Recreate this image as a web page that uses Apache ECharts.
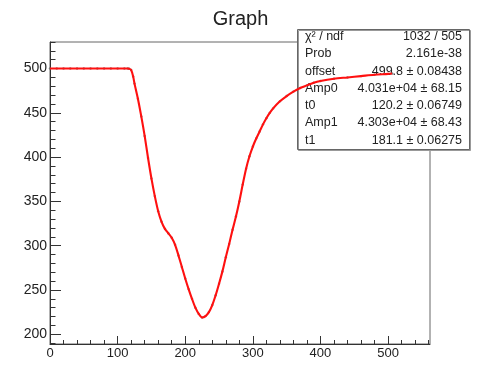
<!DOCTYPE html>
<html>
<head>
<meta charset="utf-8">
<script src="https://cdn.jsdelivr.net/npm/echarts@6/dist/echarts.min.js"></script>
<style>
  html, body { margin: 0; padding: 0; background: #fff; }
  #chart { width: 481px; height: 368px; }
</style>
</head>
<body>
<div id="chart"></div>
<script>
// samples
const xs = [0, 10, 20, 30, 40, 50, 60, 70, 80, 90, 100, 110, 115, 117, 120, 123, 125, 130, 135, 140, 145,
  150, 155, 160, 165, 170, 175, 180, 185, 190, 195, 200, 205, 210, 215, 220, 225, 230, 235, 240, 245,
  250, 255, 260, 265, 270, 275, 280, 285, 290, 295, 300, 305, 310, 315, 320, 325, 330, 340, 350, 360,
  370, 380, 390, 400, 420, 440, 460, 480, 500, 506];
const counts = [500, 500, 500, 500, 500, 500, 500, 500, 500, 500, 500, 500, 500, 499.8, 498.5, 491, 483, 466, 446, 424, 399,
  376, 356, 339, 327, 319, 314, 309, 301, 289, 276, 263, 251, 240, 230, 223, 219, 220.5, 225, 233, 244,
  257, 271, 287, 302, 318, 333, 350, 369, 387, 401, 412, 421, 429, 437, 444, 450, 455, 463, 469, 474,
  478, 481, 484, 486, 488.5, 490, 491.5, 493, 494, 494.4];

const xMajor = [0, 100, 200, 300, 400, 500];
const yMajor = [200, 250, 300, 350, 400, 450, 500];
const xRange = [0, 562];
const yRange = [189, 530];

const statNames = ['χ² / ndf', 'Prob', 'offset', 'Amp0', 't0', 'Amp1', 't1'];
const statValues = ['1032 / 505', '2.161e-38', '499.8 ± 0.08438', '4.031e+04 ± 68.15',
  '120.2 ± 0.06749', '4.303e+04 ± 68.43', '181.1 ± 0.06275'];

function minorTicks(range, step, majorStep) {
  const out = [];
  for (let v = Math.ceil(range[0] / step) * step; v <= range[1]; v += step) {
    if (v % majorStep !== 0) out.push(v);
  }
  return out;
}

const points = xs.map((x, i) => [x, counts[i]]);
const font = 'Liberation Sans, Arial, sans-serif';

const chart = echarts.init(document.getElementById('chart'), null, { renderer: 'canvas' });

const statText = [];
statNames.forEach((name, i) => {
  statText.push({
    type: 'text', left: 305, top: 30 + i * 17.3, z: 1,
    style: { text: name, font: '12.5px ' + font, fill: '#222', textVerticalAlign: 'top' }
  });
  statText.push({
    type: 'text', right: 19, top: 30 + i * 17.3, z: 1,
    style: { text: statValues[i], font: '12.5px ' + font, fill: '#222', textAlign: 'right', textVerticalAlign: 'top' }
  });
});

const option = {
  animation: false,
  backgroundColor: '#fff',
  title: {
    text: 'Graph',
    left: 'center',
    top: 4,
    textStyle: { fontFamily: font, fontSize: 20, fontWeight: 'normal', color: '#222' }
  },
  grid: {
    left: 50, right: 51, top: 42, bottom: 24,
    containLabel: false,
    outerBoundsMode: 'none',
    show: true,
    borderColor: '#666',
    borderWidth: 1
  },
  xAxis: [
    {
      type: 'value', min: xRange[0], max: xRange[1], position: 'bottom',
      splitLine: { show: false },
      axisLine: { onZero: false, lineStyle: { color: '#333', width: 1 } },
      axisTick: { inside: true, length: 8, customValues: xMajor, lineStyle: { color: '#333' } },
      axisLabel: { customValues: xMajor, margin: 3, fontFamily: font, fontSize: 13, color: '#222' }
    },
    {
      type: 'value', min: xRange[0], max: xRange[1], position: 'bottom',
      splitLine: { show: false },
      axisLine: { show: false, onZero: false },
      axisTick: { inside: true, length: 4, customValues: minorTicks(xRange, 20, 100), lineStyle: { color: '#333' } },
      axisLabel: { show: false }
    }
  ],
  yAxis: [
    {
      type: 'value', min: yRange[0], max: yRange[1], position: 'left',
      splitLine: { show: false },
      axisLine: { show: true, onZero: false, lineStyle: { color: '#333', width: 1 } },
      axisTick: { show: true, inside: true, length: 11, customValues: yMajor, lineStyle: { color: '#333' } },
      axisLabel: { customValues: yMajor, margin: 3, fontFamily: font, fontSize: 14, color: '#222' }
    },
    {
      type: 'value', min: yRange[0], max: yRange[1], position: 'left',
      splitLine: { show: false },
      axisLine: { show: false, onZero: false },
      axisTick: { show: true, inside: true, length: 5.5, customValues: minorTicks(yRange, 10, 50), lineStyle: { color: '#333' } },
      axisLabel: { show: false }
    }
  ],
  graphic: [
    {
      type: 'rect', left: 297, top: 29, z: 0,
      shape: { width: 172, height: 120 },
      style: { fill: '#fff', stroke: '#666', lineWidth: 1, shadowColor: '#999', shadowOffsetX: 1, shadowOffsetY: 1 }
    }
  ].concat(statText),
  series: [
    {
      name: 'data',
      type: 'scatter',
      data: points,
      symbol: 'circle',
      symbolSize: 2.4,
      itemStyle: { color: '#666' },
      z: 3
    },
    {
      name: 'fit',
      type: 'line',
      data: points,
      smooth: 0.3,
      showSymbol: false,
      lineStyle: { color: '#ff1010', width: 2.1 },
      z: 4
    }
  ]
};

chart.setOption(option);
</script>
</body>
</html>
